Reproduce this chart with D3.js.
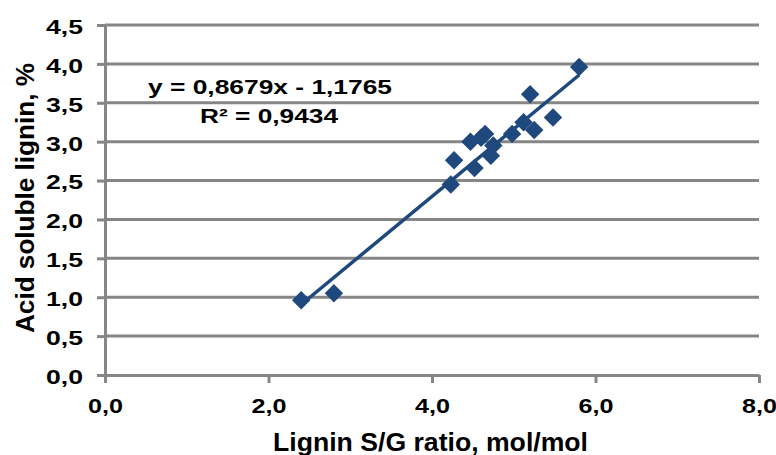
<!DOCTYPE html>
<html>
<head>
<meta charset="utf-8">
<script src="https://d3js.org/d3.v7.min.js"></script>
<style>
  body { margin: 0; background: #fff; }
  svg text { font-family: "Liberation Sans", Arial, sans-serif; font-weight: bold; fill: #000; }
</style>
</head>
<body>
<script>
// S/G ratio (mol/mol) vs acid soluble lignin (%)
var sgRatio = [2.40, 2.80, 4.23, 4.27, 4.47, 4.52, 4.60, 4.65, 4.72, 4.75, 4.98, 5.12, 5.20, 5.25, 5.48, 5.80];
var asLignin = [0.96, 1.05, 2.45, 2.76, 3.00, 2.66, 3.05, 3.10, 2.82, 2.95, 3.10, 3.25, 3.61, 3.15, 3.31, 3.96];
var xTicks = [0, 2, 4, 6, 8];
var yTicks = [0, 0.5, 1, 1.5, 2, 2.5, 3, 3.5, 4, 4.5];
var slope = 0.8679, intercept = -1.1765;
var eqLabel = "y = 0,8679x - 1,1765";
var r2Label = "R² = 0,9434";

var W = 776, H = 455;
var mLeft = 105, mRight = 759, mTop = 25, mBottom = 375;
var grey = "#868686", blue = "#1F497D";
var fmt = function(d) { return d.toFixed(1).replace(".", ","); };

var svg = d3.select("body").append("svg").attr("width", W).attr("height", H);

var x = d3.scaleLinear().domain([0, 8]).range([mLeft, mRight]);
var y = d3.scaleLinear().domain([0, 4.5]).range([mBottom, mTop]);

// horizontal gridlines
svg.selectAll("line.grid")
  .data(yTicks.filter(function(d) { return d > 0; }))
  .enter().append("line")
  .attr("class", "grid")
  .attr("x1", mLeft).attr("x2", mRight)
  .attr("y1", function(d) { return y(d); })
  .attr("y2", function(d) { return y(d); })
  .attr("stroke", grey).attr("stroke-width", 3);

// y axis
var yAxis = svg.append("g").attr("transform", "translate(" + mLeft + ",0)")
  .call(d3.axisLeft(y).tickValues(yTicks).tickFormat(fmt).tickSize(8).tickSizeOuter(0).tickPadding(14));
// x axis
var xAxis = svg.append("g").attr("transform", "translate(0," + mBottom + ")")
  .call(d3.axisBottom(x).tickValues(xTicks).tickFormat(fmt).tickSize(8).tickSizeOuter(0).tickPadding(15));

[xAxis, yAxis].forEach(function(g) {
  g.select(".domain").attr("stroke", grey).attr("stroke-width", 3);
  g.selectAll(".tick line").attr("stroke", grey).attr("stroke-width", 3);
  g.selectAll(".tick text")
    .style("font-family", "Liberation Sans, Arial, sans-serif")
    .style("font-weight", "bold").attr("fill", "#000")
    .attr("lengthAdjust", "spacingAndGlyphs");
});
yAxis.selectAll(".tick text").style("font-size", "21px").attr("textLength", 37).attr("dy", "0.4em");
xAxis.selectAll(".tick text").style("font-size", "21px").attr("textLength", 35).attr("dy", "0.71em");

// trendline
var xMin = d3.min(sgRatio), xMax = d3.max(sgRatio);
svg.append("line")
  .attr("x1", x(xMin)).attr("y1", y(slope * xMin + intercept))
  .attr("x2", x(xMax)).attr("y2", y(slope * xMax + intercept))
  .attr("stroke", blue).attr("stroke-width", 3.5);

// markers
var diamond = d3.symbol().type(d3.symbolSquare).size(170);
svg.selectAll("path.pt")
  .data(sgRatio)
  .enter().append("path")
  .attr("class", "pt")
  .attr("d", diamond)
  .attr("transform", function(d, i) { return "translate(" + x(d) + "," + y(asLignin[i]) + ") rotate(45)"; })
  .attr("fill", blue);

// equation labels
svg.append("text").attr("x", 148).attr("y", 94)
  .attr("textLength", 244).attr("lengthAdjust", "spacingAndGlyphs")
  .style("font-size", "20px").text(eqLabel);
svg.append("text").attr("x", 200).attr("y", 123)
  .attr("textLength", 138).attr("lengthAdjust", "spacingAndGlyphs")
  .style("font-size", "20px").text(r2Label);

// axis titles
svg.append("text").attr("x", 273).attr("y", 451)
  .attr("textLength", 315).attr("lengthAdjust", "spacingAndGlyphs")
  .style("font-size", "25px").text("Lignin S/G ratio, mol/mol");
svg.append("text").attr("transform", "translate(34,333) rotate(-90)")
  .attr("textLength", 270).attr("lengthAdjust", "spacingAndGlyphs")
  .style("font-size", "25px").text("Acid soluble lignin, %");
</script>
</body>
</html>
